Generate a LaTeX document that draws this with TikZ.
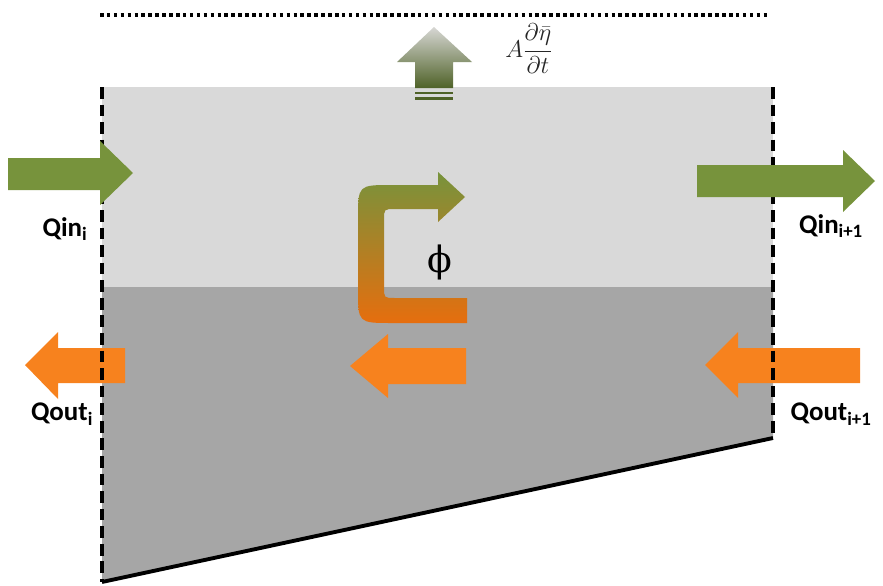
\documentclass[tikz,border=0pt]{standalone}
\usepackage{fontspec}
\setmainfont{Carlito}
\newfontfamily\phifont{DejaVu Serif}
\usepackage{tikz}

\definecolor{qgreen}{RGB}{119,147,60}
\definecolor{qorange}{RGB}{247,130,30}
\definecolor{bentorange}{RGB}{230,110,14}
\definecolor{upperlayer}{RGB}{217,217,217}
\definecolor{lowerlayer}{RGB}{166,166,166}
\definecolor{olivedark}{RGB}{79,98,40}
\definecolor{fadegray}{RGB}{215,215,212}

\tikzset{
	qlabel/.style={font=\bfseries\fontsize{23}{26}\selectfont, inner sep=0pt},
	wall/.style={line width=3.3pt, dash pattern=on 10pt off 5pt},
}

\begin{document}
\begin{tikzpicture}[x=0.03cm, y=-0.03cm]
				\useasboundingbox (0,0) rectangle (883,586);

				% couche superieure
				\fill[upperlayer] (102,87) rectangle (773,287);

				% couche inferieure
				\fill[lowerlayer] (102,287) -- (773,287) -- (773,438) -- (102,582) -- cycle;

				% surface libre
				\draw[line width=3pt, dash pattern=on 3pt off 2.9pt] (100,15) -- (770,15);

				% fleche montee du niveau
				\shade[top color=fadegray, bottom color=olivedark]
					(434,27) -- (472,62) -- (453,62) -- (453,88) -- (415,88) -- (415,62) -- (397,62) -- cycle;
				\fill[olivedark] (415,91.5) rectangle (453,94);
				\fill[olivedark] (415,96.5) rectangle (453,99.5);
				\node[font=\fontsize{20}{24}\selectfont, text=black!85, inner sep=0pt] (flux) at (529,49)
					{$A\displaystyle\frac{\partial\bar{\eta}}{\partial t}$};

				% fleches Qout
				\fill[qorange] (25,365) -- (58,332) -- (58,348) -- (125,348) -- (125,383) -- (58,383) -- (58,399) -- cycle;
				\fill[qorange] (350,366) -- (388,334) -- (388,348) -- (466,348) -- (466,384) -- (388,384) -- (388,398) -- cycle;
				\fill[qorange] (705,365) -- (738,332) -- (738,348) -- (860,348) -- (860,383) -- (738,383) -- (738,398) -- cycle;

				% parois
				\draw[wall] (102,87) -- (102,582);
				\draw[wall] (773,87) -- (773,438);

				% fond
				\draw[line width=3.3pt] (102,582) -- (773,438);

				% fleches Qin
				\fill[qgreen] (8,158) -- (100,158) -- (100,141) -- (133,173) -- (100,205) -- (100,190) -- (8,190) -- cycle;
				\fill[qgreen] (697,165) -- (843,165) -- (843,150) -- (875,181) -- (843,212) -- (843,197) -- (697,197) -- cycle;

				% echange phi
				\shade[top color=qgreen, bottom color=bentorange]
					(465,197) -- (438,172) -- (438,185) -- (392,185)
					.. controls (358,185) .. (358,219) -- (358,289)
					.. controls (358,323) .. (392,323) -- (467,323) -- (467,298) -- (395,298)
					.. controls (384,298) .. (384,287) -- (384,220)
					.. controls (384,209) .. (395,209) -- (438,209) -- (438,222) -- cycle;
				\node[font=\phifont\fontsize{31}{34}\selectfont, inner sep=0pt] (phi) at (440,262) {ϕ};

				% etiquettes
				\node[qlabel] (qin_i) at (65,229) {Qin\textsubscript{i}};
				\node[qlabel] (qin_ip) at (831,226) {Qin\textsubscript{i+1}};
				\node[qlabel] (qout_i) at (62,414) {Qout\textsubscript{i}};
				\node[qlabel] (qout_ip) at (831,414) {Qout\textsubscript{i+1}};
			\end{tikzpicture}
\end{document}
